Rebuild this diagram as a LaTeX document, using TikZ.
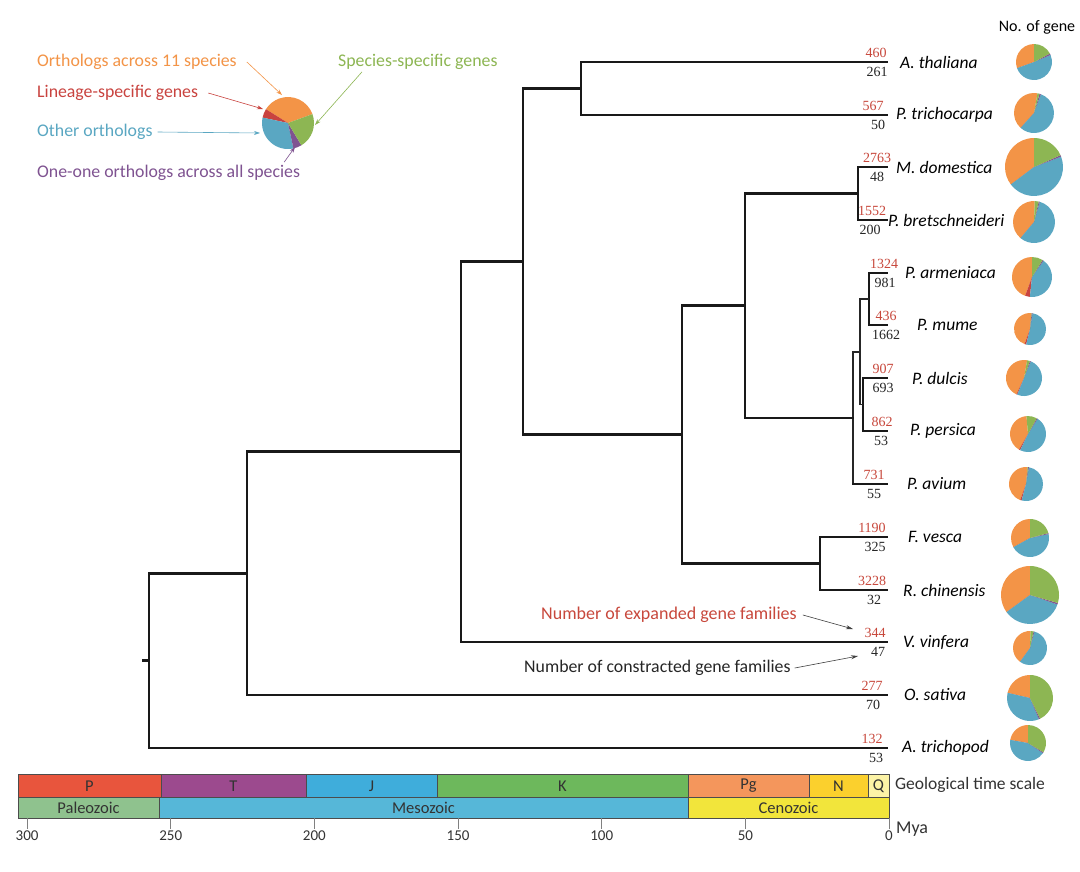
\documentclass[tikz,border=0pt]{standalone}
\usepackage{fontspec}
\setmainfont{Carlito}
\newfontfamily\numfont{Liberation Serif}
\usetikzlibrary{calc}
\usetikzlibrary{positioning}
\usetikzlibrary{arrows.meta}

\definecolor{orthcol}{HTML}{F39447}
\definecolor{linecol}{HTML}{C9433F}
\definecolor{othercol}{HTML}{5AA7C2}
\definecolor{onecol}{HTML}{7F5391}
\definecolor{speccol}{HTML}{8DB653}
\definecolor{expred}{HTML}{C8483C}
\definecolor{colP}{HTML}{E8553D}
\definecolor{colT}{HTML}{9C4A8E}
\definecolor{colJ}{HTML}{3FADDB}
\definecolor{colK}{HTML}{6DB85C}
\definecolor{colPg}{HTML}{F4965C}
\definecolor{colN}{HTML}{FBD02D}
\definecolor{colQ}{HTML}{FCF3A6}
\definecolor{colPaleo}{HTML}{8FC28E}
\definecolor{colMeso}{HTML}{56B7D8}
\definecolor{colCeno}{HTML}{F2E53B}

% pie of gene classes: centre, radius, then slice borders (ccw)
\newcommand{\genepie}[7]{%
	\fill[orthcol] (#1) -- ++(#3:#2pt) arc[start angle=#3, end angle=#4, radius=#2pt] -- cycle;
	\fill[linecol] (#1) -- ++(#4:#2pt) arc[start angle=#4, end angle=#5, radius=#2pt] -- cycle;
	\fill[othercol] (#1) -- ++(#5:#2pt) arc[start angle=#5, end angle=#6, radius=#2pt] -- cycle;
	\fill[onecol] (#1) -- ++(#6:#2pt) arc[start angle=#6, end angle=#7, radius=#2pt] -- cycle;
	\fill[speccol] (#1) -- ++(#7:#2pt) arc[start angle=#7, end angle=#3+360, radius=#2pt] -- cycle;
}
% expanded / contracted counts at a tip
\newcommand{\tipnums}[5]{%
	\node[exp num] (e#1) at ($(#1)+(#4,-4)$) {#2};
	\node[con num] (c#1) at ($(#1)+(#5,5)$) {#3};
}

\begin{document}
\begin{tikzpicture}[x=1pt, y=-1pt,
	branch/.style={line width=2.7pt, draw=black!90, line cap=rect},
	twig/.style={line width=1.2pt, draw=black!85},
	taxon/.style={font=\itshape\fontsize{17.5}{18}\selectfont, anchor=west, inner sep=0pt},
	exp num/.style={font=\numfont\fontsize{14}{14}\selectfont, text=expred, anchor=south, inner sep=0pt},
	con num/.style={font=\numfont\fontsize{14}{14}\selectfont, text=black!85, anchor=north, inner sep=0pt},
	legend text/.style={font=\fontsize{17.8}{18}\selectfont, anchor=west, inner sep=0pt},
	legend arrow/.style={-{Stealth[length=6pt, width=4pt]}, line width=0.6pt},
	note arrow/.style={-{Stealth[length=7pt, width=4pt]}, line width=0.6pt, draw=black!75},
	era box/.style={draw=black!70, line width=0.6pt},
	era label/.style={font=\fontsize{16.5}{17}\selectfont, text=black!80, inner sep=0pt}]

	\fill[white] (0,0) rectangle (1080,871);
	\useasboundingbox (0,0) rectangle (1080,871);

	% tips
	\coordinate (athal) at (887,62);
	\coordinate (ptric) at (887,115);
	\coordinate (mdom) at (887,167);
	\coordinate (pbret) at (887,220);
	\coordinate (parm) at (887,273);
	\coordinate (pmum) at (887,325);
	\coordinate (pdul) at (887,378);
	\coordinate (pper) at (887,431);
	\coordinate (pavi) at (887,484);
	\coordinate (fves) at (887,537);
	\coordinate (rchi) at (887,590);
	\coordinate (vvin) at (887,642);
	\coordinate (osat) at (887,695);
	\coordinate (atri) at (887,748);

	% internal nodes
	\coordinate (nAP) at (581,88.5);
	\coordinate (nMal) at (858,193.5);
	\coordinate (nAM) at (869,299);
	\coordinate (nDP) at (863,404.5);
	\coordinate (nADMP) at (860,352);
	\coordinate (nPru) at (853,418);
	\coordinate (nMP) at (745,305.75);
	\coordinate (nFR) at (820,563.5);
	\coordinate (nRos) at (682,434.6);
	\coordinate (nRosid) at (523,261.5);
	\coordinate (nVit) at (461,451.8);
	\coordinate (nMono) at (247,573.4);
	\coordinate (nRoot) at (149,660.7);
	\coordinate (stub) at (143,660.7);

	% tree
	\draw[branch] (athal) -| (nAP) |- (ptric);
	\draw[branch] (mdom) -| (nMal) |- (pbret);
	\draw[branch] (parm) -| (nAM) |- (pmum);
	\draw[branch] (pdul) -| (nDP) |- (pper);
	\draw[twig] (nAM) -| (nADMP) |- (nDP);
	\draw[twig] (nADMP) -| (nPru) |- (pavi);
	\draw[branch] (pavi) -- (pavi -| nPru);
	\draw[branch] (nMal) -| (nMP) |- (nPru);
	\draw[branch] (fves) -| (nFR) |- (rchi);
	\draw[branch] (nMP) -| (nRos) |- (nFR);
	\draw[branch] (nAP) -| (nRosid) |- (nRos);
	\draw[branch] (nRosid) -| (nVit) |- (vvin);
	\draw[branch] (nVit) -| (nMono) |- (osat);
	\draw[branch] (nMono) -| (nRoot) |- (atri);
	\draw[branch] (nRoot) -- (stub);

	% species names
	\node[taxon, right=13pt of athal] (lAthal) {A. thaliana};
	\node[taxon, right=9pt of ptric] (lPtric) {P. trichocarpa};
	\node[taxon, right=9pt of mdom] (lMdom) {M. domestica};
	\node[taxon, right=1pt of pbret] (lPbret) {P. bretschneideri};
	\node[taxon, right=18pt of parm] (lParm) {P. armeniaca};
	\node[taxon, right=30pt of pmum] (lPmum) {P. mume};
	\node[taxon, right=25pt of pdul] (lPdul) {P. dulcis};
	\node[taxon, right=23pt of pper] (lPper) {P. persica};
	\node[taxon, right=20pt of pavi] (lPavi) {P. avium};
	\node[taxon, right=21pt of fves] (lFves) {F. vesca};
	\node[taxon, right=16pt of rchi] (lRchi) {R. chinensis};
	\node[taxon, right=16pt of vvin] (lVvin) {V. vinfera};
	\node[taxon, right=17pt of osat] (lOsat) {O. sativa};
	\node[taxon, right=15pt of atri] (lAtri) {A. trichopod};

	% expanded / contracted gene families
	\tipnums{athal}{460}{261}{-11}{-10}
	\tipnums{ptric}{567}{50}{-14}{-9}
	\tipnums{mdom}{2763}{48}{-10}{-10}
	\tipnums{pbret}{1552}{200}{-15}{-17}
	\tipnums{parm}{1324}{981}{-3}{-2}
	\tipnums{pmum}{436}{1662}{-1}{-1}
	\tipnums{pdul}{907}{693}{-4}{-4}
	\tipnums{pper}{862}{53}{-5}{-6}
	\tipnums{pavi}{731}{55}{-13}{-13}
	\tipnums{fves}{1190}{325}{-15}{-12}
	\tipnums{rchi}{3228}{32}{-15}{-13}
	\tipnums{vvin}{344}{47}{-12}{-9}
	\tipnums{osat}{277}{70}{-15}{-14}
	\tipnums{atri}{132}{53}{-15}{-11}

	% gene pies
	\node[font=\fontsize{16}{16}\selectfont, inner sep=0pt] (hdPie) at (1037,27) {No. of gene};
	\genepie{1034,62}{18}{90}{200}{200}{383}{388}
	\genepie{1034,113}{20}{80}{228}{228}{430}{434}
	\genepie{1034,167}{29}{90}{217}{217}{381}{384}
	\genepie{1034,222}{21}{88}{230}{230}{434}{437}
	\genepie{1032,277}{20}{90}{250}{264}{415}{418}
	\genepie{1030,329}{16}{85}{250}{256}{441}{444}
	\genepie{1024,378}{18}{80}{245}{248}{428}{431}
	\genepie{1028,434}{18}{95}{240}{244}{418}{421}
	\genepie{1026,484}{17}{85}{250}{255}{440}{443}
	\genepie{1030,538}{19}{90}{209}{209}{372}{375}
	\genepie{1030,595}{29}{90}{216}{216}{341}{344}
	\genepie{1030,648}{17}{88}{234}{234}{435}{438}
	\genepie{1030,698}{23}{90}{167}{167}{293}{296}
	\genepie{1028,743}{18}{90}{170}{170}{326}{329}

	% legend
	\genepie{288,123}{26}{20}{148}{168}{282}{301}
	\node[legend text, text=orthcol] (lgOrth) at (37,62) {Orthologs across 11 species};
	\node[legend text, text=linecol] (lgLine) at (37,93) {Lineage-specific genes};
	\node[legend text, text=othercol] (lgOther) at (37,132) {Other orthologs};
	\node[legend text, text=onecol] (lgOne) at (37,173) {One-one orthologs across all species};
	\node[legend text, text=speccol] (lgSpec) at (338,62) {Species-specific genes};
	\coordinate (tOrth) at (282,95);
	\coordinate (tLine) at (263,109);
	\coordinate (tOther) at (260,133);
	\coordinate (tOne) at (295,147);
	\coordinate (tSpec) at (315,125);
	\draw[legend arrow, orthcol] ([xshift=10pt]lgOrth.east) -- (tOrth);
	\draw[legend arrow, linecol] ([xshift=10pt]lgLine.east) -- (tLine);
	\draw[legend arrow, othercol] ([xshift=5pt]lgOther.east) -- (tOther);
	\draw[legend arrow, onecol] ([xshift=-16pt, yshift=3pt]lgOne.north east) -- (tOne);
	\draw[legend arrow, speccol] ([xshift=24pt, yshift=-2pt]lgSpec.south west) -- (tSpec);

	% notes on the counts
	\node[legend text, text=expred, font=\fontsize{18}{18}\selectfont] (noteExp) at (541,615) {Number of expanded gene families};
	\node[legend text, text=black!85, font=\fontsize{17.8}{18}\selectfont] (noteCon) at (524,668) {Number of constracted gene families};
	\coordinate (tExp) at (853,629);
	\coordinate (tCon) at (858,656);
	\draw[note arrow] ([xshift=6pt]noteExp.east) -- (tExp);
	\draw[note arrow] ([xshift=4pt]noteCon.east) -- (tCon);

	% geological time scale
	\foreach \a/\b/\c/\lab in {18/161/colP/P, 161/306/colT/T, 306/437/colJ/J, 437/688/colK/K, 688/809/colPg/Pg, 809/868/colN/N, 868/889/colQ/Q}{
		\draw[era box, fill=\c] (\a,774) rectangle (\b,797);
		\node[era label] (per\lab) at ({(\a+\b)/2},786) {\lab};
	}
	\foreach \a/\b/\c/\lab in {18/159/colPaleo/Paleozoic, 159/688/colMeso/Mesozoic, 688/889/colCeno/Cenozoic}{
		\draw[era box, fill=\c] (\a,797) rectangle (\b,818);
		\node[era label] (era\lab) at ({(\a+\b)/2},808) {\lab};
	}
	\node[era label, anchor=west, font=\fontsize{17.5}{18}\selectfont] (gtsLabel) at (895,785) {Geological time scale};
	\foreach \t in {0,50,...,300}{
		\draw[black!50, line width=0.6pt] ({889-2.873*\t},818) -- ({889-2.873*\t},829);
		\node[era label, anchor=north, font=\fontsize{15}{15}\selectfont] (tick\t) at ({889-2.873*\t},831) {\t};
	}
	\node[era label, anchor=west, font=\fontsize{18}{18}\selectfont] (myaLabel) at (896,829) {Mya};
\end{tikzpicture}
\end{document}
